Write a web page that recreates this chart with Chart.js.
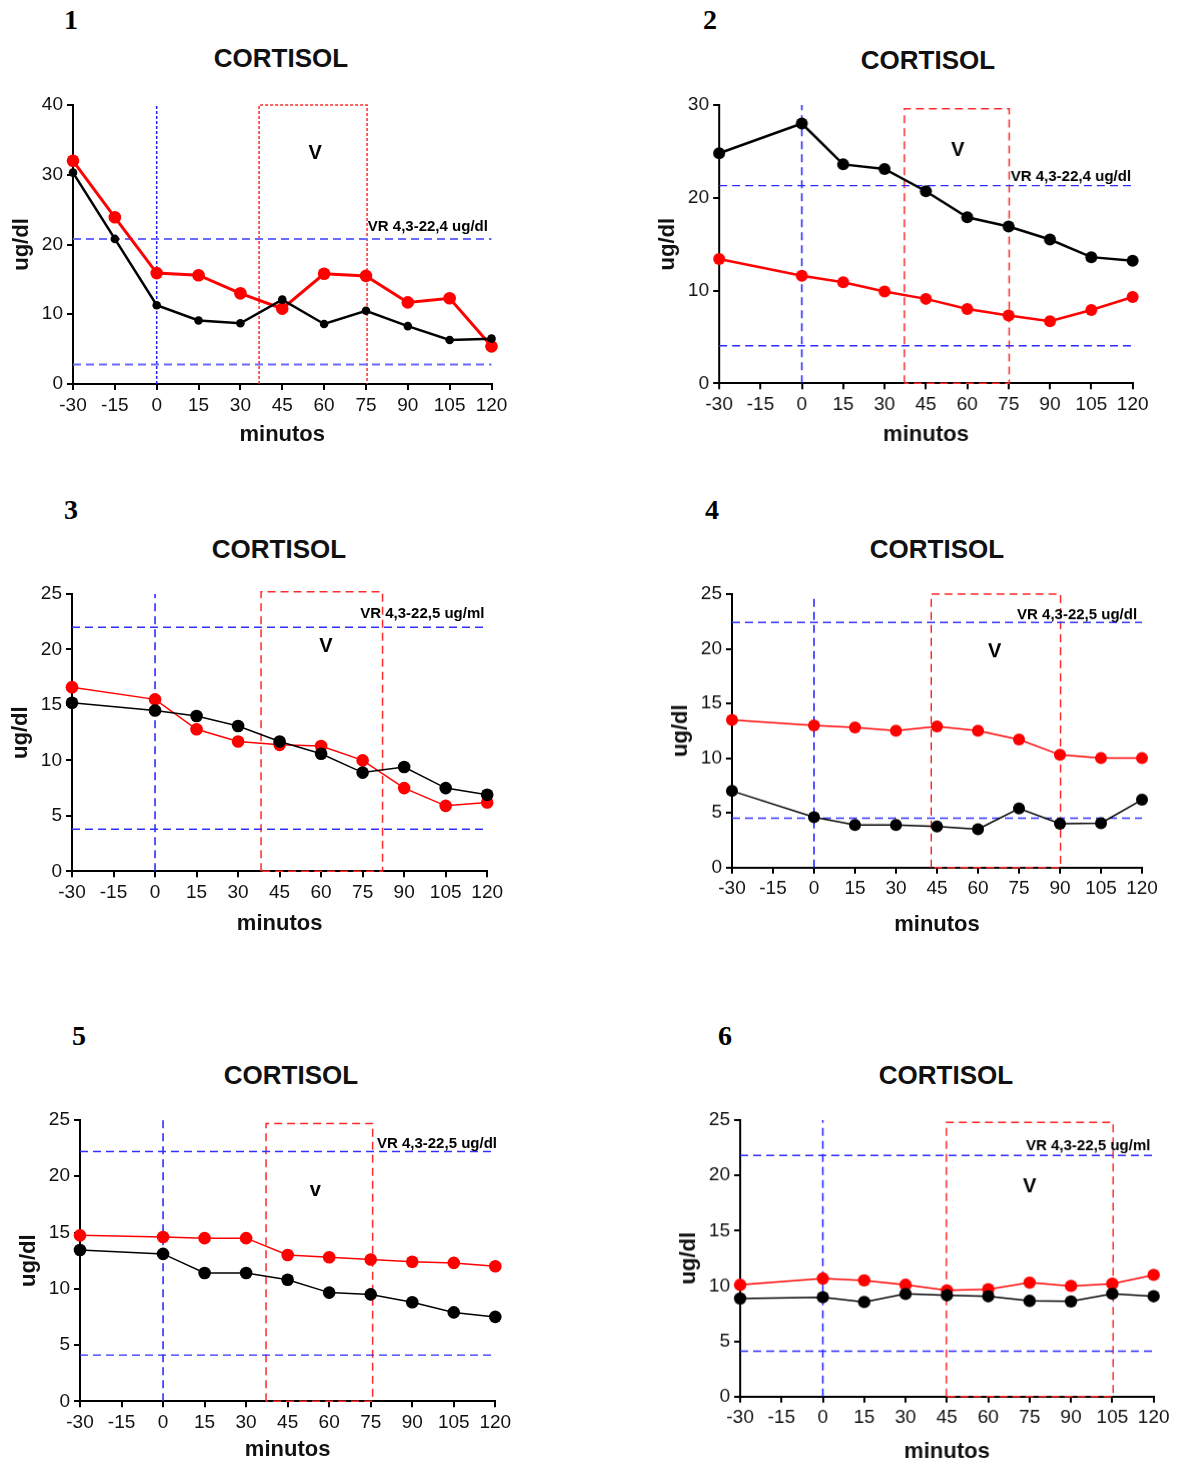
<!DOCTYPE html>
<html lang="es">
<head>
<meta charset="UTF-8">
<title>Cortisol</title>
<script src="https://cdn.jsdelivr.net/npm/chart.js"></script>
<style>
    body { margin: 0; background: #fff; font-family: 'Liberation Sans', Arial, sans-serif; }
    #hoja { position: relative; width: 1180px; height: 1463px; overflow: hidden; }
    .caja { position: absolute; }
    .num { position: absolute; font-family: 'Liberation Serif', 'Times New Roman', serif; font-weight: bold; font-size: 28px; transform: translate(-50%, -50%); }
    .titulo { position: absolute; font-weight: bold; font-size: 26px; color: #111; transform: translate(-50%, -50%); white-space: nowrap; }
</style>
</head>
<body>
<div id="hoja"></div>
<script>
// datos
const minutosA = [-30, -15, 0, 15, 30, 45, 60, 75, 90, 105, 120];
const minutosB = [-30, 0, 15, 30, 45, 60, 75, 90, 105, 120];

const rojo1 = [32.0, 23.9, 15.9, 15.6, 13.0, 10.8, 15.8, 15.5, 11.7, 12.3, 5.4];
const negro1 = [30.3, 20.8, 11.3, 9.1, 8.7, 12.1, 8.6, 10.5, 8.3, 6.3, 6.5];
const rojo2 = [13.4, 11.6, 10.9, 9.9, 9.1, 8.0, 7.3, 6.7, 7.9, 9.3];
const negro2 = [24.8, 28.0, 23.6, 23.1, 20.7, 17.9, 16.9, 15.5, 13.6, 13.2];
const rojo3 = [16.6, 15.5, 12.8, 11.7, 11.4, 11.3, 10.0, 7.5, 5.9, 6.2];
const negro3 = [15.2, 14.5, 14.0, 13.1, 11.7, 10.6, 8.9, 9.4, 7.5, 6.9];
const rojo4 = [13.5, 13.0, 12.8, 12.5, 12.9, 12.5, 11.7, 10.3, 10.0, 10.0];
const negro4 = [7.0, 4.6, 3.9, 3.9, 3.75, 3.5, 5.4, 4.0, 4.05, 6.2];
const rojo5 = [14.75, 14.6, 14.5, 14.5, 13.0, 12.8, 12.6, 12.4, 12.3, 12.0];
const negro5 = [13.45, 13.1, 11.4, 11.4, 10.8, 9.66, 9.5, 8.8, 7.9, 7.5];
const rojo6 = [10.1, 10.67, 10.5, 10.1, 9.6, 9.7, 10.3, 10.0, 10.2, 11.0];
const negro6 = [8.86, 8.98, 8.55, 9.28, 9.16, 9.07, 8.65, 8.6, 9.3, 9.07];

const yMaximos = [40, 30, 25, 25, 25, 25];
const yPasos = [10, 10, 5, 5, 5, 5];
const refAlto = [20.8, 21.3, 22.0, 22.4, 22.2, 21.8];
const refBajo = [2.8, 4.05, 3.8, 4.5, 4.1, 4.1];
// caja V: minuto inicio, minuto fin, techo
const cajasV = [[36.7, 75.4, 40], [37.2, 75.2, 29.6], [38.3, 82.2, 25.2], [42.9, 90.2, 25], [37.2, 75.7, 24.7], [44.8, 105.3, 24.8]];
const textosVR = ['VR 4,3-22,4 ug/dl', 'VR 4,3-22,4 ug/dl', 'VR 4,3-22,5 ug/ml', 'VR 4,3-22,5 ug/dl', 'VR 4,3-22,5 ug/dl', 'VR 4,3-22,5 ug/ml'];
const letrasV = ['V', 'V', 'V', 'V', 'v', 'V'];
const xTicks = [-30, -15, 0, 15, 30, 45, 60, 75, 90, 105, 120];

const series = [
    { x: minutosA, rojo: rojo1, negro: negro1 },
    { x: minutosB, rojo: rojo2, negro: negro2 },
    { x: minutosB, rojo: rojo3, negro: negro3 },
    { x: minutosB, rojo: rojo4, negro: negro4 },
    { x: minutosB, rojo: rojo5, negro: negro5 },
    { x: minutosB, rojo: rojo6, negro: negro6 }
];

// posiciones y estilos (pixeles de la hoja)
const areas = [[72.5, 105, 491, 384], [719, 105, 1131.7, 383.3], [71.5, 594, 486.7, 871.3],
               [732.3, 594, 1142.3, 866.7], [79.7, 1120, 495, 1401.3], [740, 1120, 1152.7, 1395.7]];
const numeros = [[71, 20], [710, 20], [71, 510], [712, 510], [79, 1036], [725, 1036]];
const titulos = [[281, 58], [928, 60], [279, 549], [937, 549], [291, 1075], [946, 1075]];
const offsetMinutos = [51, 52, 53, 57, 49, 55];
const posV = [[56.8, 33], [56.6, 25.1], [61.7, 20.3], [66.1, 19.7], [55, 18.7], [75, 19]];
const posVR = [[118.7, 22.6], [119.4, 22.3], [119, 23.2], [118.2, 23.1], [120.6, 22.9], [118.8, 22.7]];
const estilos = [
    { lw: [3, 2.5], r: [6.3, 4.3], caja: [3, 2], vert: [3, 2], azul: '#6a6aff', azulW: 2, fondo: false },
    { lw: [2.5, 2.5], r: [6, 6], caja: [8, 5], vert: [8, 5], azul: '#2b2bff', azulW: 1.3, fondo: true },
    { lw: [1.5, 1.5], r: [6.3, 6.3], caja: [8, 5], vert: [8, 5], azul: '#3030ff', azulW: 1.5, fondo: true },
    { lw: [1.5, 1.5], r: [6, 6], caja: [8, 5], vert: [8, 5], azul: '#3535ff', azulW: 1.5, fondo: true },
    { lw: [1.5, 1.5], r: [6.3, 6.3], caja: [8, 5], vert: [8, 5], azul: '#3030ff', azulW: 1.3, fondo: true },
    { lw: [1.5, 1.5], r: [6.2, 6.2], caja: [8, 5], vert: [8, 5], azul: '#2b2bff', azulW: 1.5, fondo: true }
];

Chart.defaults.font.family = "'Liberation Sans', Arial, sans-serif";
Chart.defaults.color = '#111';

const textosPlugin = {
    id: 'textos',
    afterDatasetsDraw(chart, args, opts) {
        const { ctx, scales: { x, y } } = chart;
        ctx.save();
        ctx.fillStyle = '#000';
        ctx.textBaseline = 'middle';
        ctx.font = "bold 20px 'Liberation Sans', Arial";
        ctx.textAlign = 'center';
        ctx.fillText(opts.v, x.getPixelForValue(opts.posV[0]), y.getPixelForValue(opts.posV[1]));
        ctx.font = "bold 15px 'Liberation Sans', Arial";
        ctx.textAlign = 'right';
        ctx.fillText(opts.vr, x.getPixelForValue(opts.posVR[0]), y.getPixelForValue(opts.posVR[1]));
        ctx.restore();
    }
};

const hoja = document.getElementById('hoja');

function etiqueta(clase, texto, pos) {
    const d = document.createElement('div');
    d.className = clase;
    d.textContent = texto;
    d.style.left = pos[0] + 'px';
    d.style.top = pos[1] + 'px';
    hoja.appendChild(d);
}

function crearPanel(i) {
    const [L, T, R, B] = areas[i];
    const padTop = 20, padRight = 40, anchoY = 72, altoX = 70;
    const est = estilos[i];
    const s = series[i];
    const caja = cajasV[i];
    const yMax = yMaximos[i];

    const div = document.createElement('div');
    div.className = 'caja';
    div.style.left = (L - anchoY) + 'px';
    div.style.top = (T - padTop) + 'px';
    div.style.width = (R - L + anchoY + padRight) + 'px';
    div.style.height = (B - T + padTop + altoX) + 'px';
    const canvas = document.createElement('canvas');
    div.appendChild(canvas);
    hoja.appendChild(div);

    etiqueta('num', String(i + 1), numeros[i]);
    etiqueta('titulo', 'CORTISOL', titulos[i]);

    const puntosCaja = [{ x: caja[0], y: 0 }, { x: caja[0], y: caja[2] }, { x: caja[1], y: caja[2] }, { x: caja[1], y: 0 }];
    if (est.fondo) puntosCaja.push({ x: caja[0], y: 0 });

    const linea = (data, color, dash, w) => ({
        data: data, borderColor: color, borderWidth: w, borderDash: dash,
        pointRadius: 0, clip: false, tension: 0
    });

    new Chart(canvas, {
        type: 'line',
        data: {
            datasets: [
                {
                    data: s.x.map((m, k) => ({ x: m, y: s.negro[k] })),
                    borderColor: '#000', backgroundColor: '#000', borderWidth: est.lw[1],
                    pointRadius: est.r[1], pointBorderWidth: 0, clip: false, tension: 0
                },
                {
                    data: s.x.map((m, k) => ({ x: m, y: s.rojo[k] })),
                    borderColor: '#ff0000', backgroundColor: '#ff0000', borderWidth: est.lw[0],
                    pointRadius: est.r[0], pointBorderWidth: 0, clip: false, tension: 0
                },
                linea([{ x: -30, y: refAlto[i] }, { x: 120, y: refAlto[i] }], est.azul, [8, 5], est.azulW),
                linea([{ x: -30, y: refBajo[i] }, { x: 120, y: refBajo[i] }], est.azul, [8, 5], est.azulW),
                linea([{ x: 0, y: 0 }, { x: 0, y: yMax }], '#2020ff', est.vert, 1.5),
                linea(puntosCaja, '#ff2a2a', est.caja, 1.5)
            ]
        },
        options: {
            responsive: true,
            maintainAspectRatio: false,
            animation: false,
            layout: { padding: { top: padTop, right: padRight, left: 0, bottom: 0 } },
            plugins: {
                legend: { display: false },
                tooltip: { enabled: false },
                textos: { v: letrasV[i], vr: textosVR[i], posV: posV[i], posVR: posVR[i] }
            },
            scales: {
                x: {
                    type: 'linear', min: xTicks[0], max: xTicks[xTicks.length - 1],
                    afterFit: sc => { sc.height = altoX; },
                    ticks: { stepSize: 15, autoSkip: false, maxRotation: 0, padding: 4, color: '#111', font: { size: 19 } },
                    grid: { drawOnChartArea: false, drawTicks: true, tickLength: 6, color: '#000', lineWidth: 2 },
                    border: { display: true, color: '#000', width: 2 },
                    title: {
                        display: true, text: 'minutos', color: '#111',
                        font: { size: 22, weight: 'bold', lineHeight: 1 },
                        padding: { top: 0, bottom: altoX - offsetMinutos[i] - 11 }
                    }
                },
                y: {
                    min: 0, max: yMax,
                    afterFit: sc => { sc.width = anchoY; },
                    ticks: { stepSize: yPasos[i], padding: 4, color: '#111', font: { size: 19 } },
                    grid: { drawOnChartArea: false, drawTicks: true, tickLength: 6, color: '#000', lineWidth: 2 },
                    border: { display: true, color: '#000', width: 2 },
                    title: {
                        display: true, text: 'ug/dl', color: '#111',
                        font: { size: 22, weight: 'bold', lineHeight: 1 },
                        padding: { top: 10, bottom: 0 }
                    }
                }
            }
        },
        plugins: [textosPlugin]
    });
}

for (let i = 0; i < 6; i++) crearPanel(i);
</script>
</body>
</html>
